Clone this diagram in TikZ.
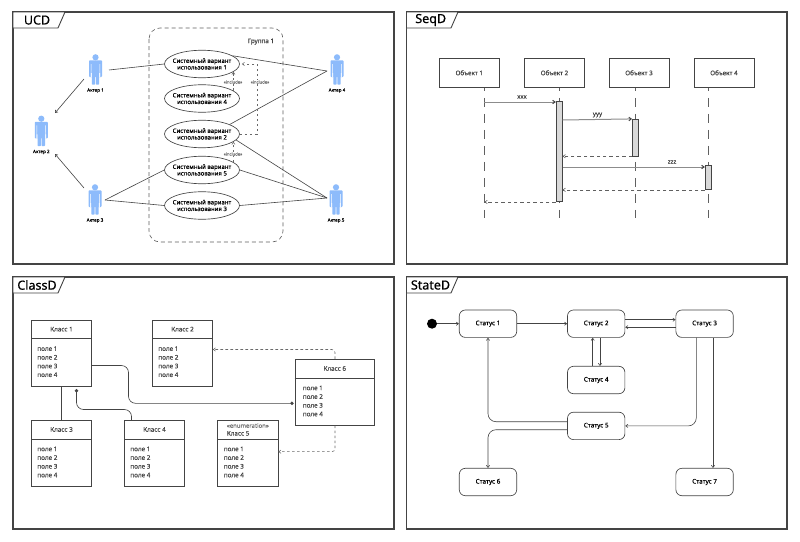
\documentclass[tikz,border=0pt]{standalone}
\usepackage{fontspec}
\setmainfont{Noto Sans}
\newfontfamily\medfont{Noto Sans}[FakeBold=0.2]
\newfontfamily\heavyfont{Noto Sans}[FakeBold=0.6]
\usetikzlibrary{arrows.meta,calc,shapes.geometric}
\definecolor{ink}{HTML}{444444}
\definecolor{actorblue}{HTML}{8DBBFB}
\definecolor{msg}{HTML}{8C8C8C}
\definecolor{barfill}{HTML}{D9D9D9}
\newcommand{\fsz}[1]{\medfont\fontsize{#1}{#1}\selectfont}
\newcommand{\ucase}[1]{\makebox[0pt]{Системный вариант}\\[.6pt]\makebox[0pt]{использования #1}}
\tikzset{
  panel/.style={draw=ink,line width=1.1pt,fill=white},
  tabshape/.style={draw=ink,line width=.9pt,fill=white},
  tabtitle/.style={font=\heavyfont\fontsize{12.5}{12.5}\selectfont,text=black,inner sep=0pt},
  conn/.style={draw=ink,line width=.6pt},
  arr/.style={conn,-{Straight Barb[length=2.2pt,width=3.2pt]}},
  grouprect/.style={draw=ink!85,line width=.6pt,dash pattern=on 4pt off 3pt,rounded corners=11pt},
  usecase/.style={ellipse,draw=ink,line width=.65pt,fill=white,minimum width=75pt,minimum height=27.5pt,inner sep=0pt,align=center,font=\fsz{6},text=black},
  actorlabel/.style={font=\fsz{4.6},text=black,inner sep=0pt},
  actoranchor/.style={inner sep=0pt,minimum width=13pt,minimum height=30pt},
  dep/.style={draw=ink!80,line width=.55pt,dash pattern=on 2.6pt off 2.4pt,-{Straight Barb[length=2.2pt,width=3.2pt]}},
  inclabel/.style={font=\fsz{4.2},text=ink!75,fill=white,inner sep=.6pt},
  objbox/.style={draw=ink,line width=.65pt,fill=white,minimum width=60pt,minimum height=29.5pt,inner sep=0pt,font=\fsz{6.3},text=ink},
  lifeline/.style={draw=ink!85,line width=.6pt,dash pattern=on 9pt off 7pt,dash phase=6pt},
  activation/.style={draw=ink,line width=.65pt,fill=barfill,minimum width=6pt,inner sep=0pt},
  msgarr/.style={draw=msg,line width=1pt,-{Straight Barb[length=2.4pt,width=3.4pt,color=ink]}},
  retarr/.style={draw=ink!85,line width=.6pt,dash pattern=on 3.4pt off 3pt,-{Straight Barb[length=2.4pt,width=3.4pt]}},
  msglabel/.style={font=\fsz{6},text=ink,inner sep=0pt},
  classbox/.style={draw=ink,line width=.65pt,fill=white,inner sep=0pt},
  classtitle/.style={font=\fsz{6.3},text=ink,inner sep=0pt,align=left},
  classfields/.style={font=\fsz{6.3},text=ink,inner sep=0pt,align=left},
  dotarr/.style={conn,-{Circle[length=3.4pt,width=3.4pt]},rounded corners=7pt,shorten >=1pt},
  statebox/.style={draw=ink,line width=.65pt,fill=white,rounded corners=6pt,minimum width=57.4pt,minimum height=27.4pt,inner sep=0pt,font=\fsz{6.3},text=black},
  startdot/.style={circle,fill=black,minimum size=10pt,inner sep=0pt},
  actorfig/.pic={
    \fill[actorblue] (0,-12.7) circle (3.1);
    \fill[actorblue,rounded corners=.8pt] (-6.5,-9.6) rectangle (6.5,7);
    \fill[white] (-4.6,-6) rectangle (-4.1,7.2) (4.1,-6) rectangle (4.6,7.2);
    \fill[white] (-4.7,3) rectangle (-3.7,7.2) (3.7,3) rectangle (4.7,7.2);
    \fill[actorblue,rounded corners=.6pt] (-3.7,0) rectangle (-.3,14.6);
    \fill[actorblue,rounded corners=.6pt] (.3,0) rectangle (3.7,14.6);
  },
}
% name, left, top, width, title, field inset
\newcommand{\umlclass}[6]{%
  \node[classbox,minimum width=#4pt,minimum height=66pt] (#1) at ({#2+#4/2},{#3+33}) {};
  \draw[conn] ($(#1.north west)+(0,19)$) -- ($(#1.north east)+(0,19)$);
  \node[classtitle] (#1t) at ($(#1.north)+(0,9.5)$) {#5};
  \node[classfields,anchor=west] (#1f) at ($(#1.north west)+(#6,42)$) {поле 1\\[2.4pt]поле 2\\[2.4pt]поле 3\\[2.4pt]поле 4};
}
\newcommand{\actorat}[4]{%
  \node[actoranchor] (#1) at (#2,#3) {};
  \pic at (#1) {actorfig};
  \node[actorlabel] (#1l) at ($(#1)+(0,20.6)$) {#4};
}
\begin{document}
\begin{tikzpicture}[x=1pt,y=-1pt]
\useasboundingbox (0,0) rectangle (800,541);
\fill[white] (0,0) rectangle (800,541);
% panels
\draw[panel] (13,12) rectangle (394,264);
\draw[panel] (406.5,12) rectangle (787,264);
\draw[panel] (13,277) rectangle (394,529);
\draw[panel] (406.5,277) rectangle (787,529);
\draw[tabshape] (13,12) -- (65,12) -- (58,28) -- (13,28) -- cycle;
\draw[tabshape] (406.5,12) -- (458,12) -- (451,28) -- (406.5,28) -- cycle;
\draw[tabshape] (13,277) -- (65,277) -- (58,293) -- (13,293) -- cycle;
\draw[tabshape] (406.5,277) -- (458,277) -- (451,293) -- (406.5,293) -- cycle;
\node[tabtitle] (t1) at (37,20) {UCD};
\node[tabtitle] (t2) at (430.7,20) {SeqD};
\node[tabtitle] (t3) at (37,285) {ClassD};
\node[tabtitle] (t4) at (430.5,285) {StateD};

% UCD
\draw[grouprect] (149,28) rectangle (283,242);
\node[font=\fsz{6.3},text=ink,inner sep=0pt] (grp) at (261,41.6) {Группа 1};
\actorat{a1}{95.5}{70}{Актер 1}
\actorat{a2}{41.3}{131.4}{Актер 2}
\actorat{a3}{95}{200}{Актер 3}
\actorat{a4}{337}{70}{Актер 4}
\actorat{a5}{336}{200}{Актер 5}
\node[usecase] (e1) at (202,64) {\ucase{1}};
\node[usecase] (e4) at (202,98.5) {\ucase{4}};
\node[usecase] (e2) at (202,134) {\ucase{2}};
\node[usecase] (e5) at (202,170) {\ucase{5}};
\node[usecase] (e3) at (202,205.5) {\ucase{3}};
\draw[conn] ($(a1)+(13.5,0)$) -- (e1.west);
\draw[arr] ($(a1)+(-11.5,9)$) -- ($(a2)+(13.7,-18.4)$);
\draw[arr] ($(a3)+(-11,-12)$) -- ($(a2)+(13.7,22.6)$);
\draw[conn] ($(a3)+(10,0)$) -- (e5.west);
\draw[conn] ($(a3)+(10,0)$) -- (e3.west);
\draw[conn] (e1.15) -- ($(a4)+(-10,1)$);
\draw[conn] (e2.19) -- ($(a4)+(-10,1)$);
\draw[conn] (e2.-10) -- ($(a5)+(-9,-2)$);
\draw[conn] (e5.east) -- ($(a5)+(-9,-2)$);
\draw[conn] (e3.east) -- ($(a5)+(-9,-2)$);
\coordinate (k1) at (257,64);
\draw[dep,shorten >=2pt] (e2.east) -| (k1) -- (e1.east);
\draw[dep] (e4.14) -- (e1.-14);
\draw[dep] (e5.14) -- (e2.-14);
\node[inclabel] (i1) at (233,82) {«include»};
\node[inclabel] (i2) at (260,82) {«include»};
\node[inclabel] (i3) at (233,154) {«include»};

% SeqD
\node[objbox] (o1) at (469.3,72.8) {Объект 1};
\node[objbox] (o2) at (554.5,72.8) {Объект 2};
\node[objbox] (o3) at (639,72.8) {Объект 3};
\node[objbox] (o4) at (724,72.8) {Объект 4};
\coordinate (l1) at (484.4,218);
\coordinate (l2) at (559.3,218);
\coordinate (l3) at (635.7,218);
\coordinate (l4) at (708.3,218);
\draw[lifeline] (o1.south -| l1) -- (l1);
\draw[lifeline] (o2.south -| l2) -- (l2);
\draw[lifeline] (o3.south -| l3) -- (l3);
\draw[lifeline] (o4.south -| l4) -- (l4);
\node[activation,minimum height=100.7pt] (b2) at (559.2,151.3) {};
\node[activation,minimum height=36.7pt] (b3) at (635.4,137.6) {};
\node[activation,minimum height=24pt] (b4) at (708.2,177.5) {};
\draw[msgarr] (484.4,102) -- (b2.north west |- 0,102);
\draw[msgarr] (b2.east |- 0,120) -- (b3.north west);
\draw[retarr] (b3.south west) -- (b2.east |- b3.south);
\draw[msgarr] (b2.east |- 0,167) -- (b4.north west |- 0,167);
\draw[retarr] (b4.south west) -- (b2.east |- b4.south);
\draw[retarr] (b2.south west) -- (l1 |- b2.south);
\node[msglabel] (m1) at (522,97) {xxx};
\node[msglabel] (m2) at (597.5,115) {yyy};
\node[msglabel] (m3) at (672,162) {zzz};

% ClassD
\umlclass{c1}{31.5}{320}{60}{Класс 1}{6}
\umlclass{c2}{152.5}{320}{60}{Класс 2}{6}
\umlclass{c3}{31.5}{420.3}{60}{Класс 3}{6}
\umlclass{c4}{124.5}{420.3}{60}{Класс 4}{6}
\umlclass{c5}{217.7}{420.3}{60.3}{\textcolor{ink!75}{\fsz{5.9}«enumeration»}\\[1.5pt]Класс 5}{6.3}
\umlclass{c6}{295}{359.3}{79.5}{Класс 6}{8}
\draw[conn] (c1.south -| 61.5,0) -- (c3.north -| 61.5,0);
\draw[dotarr] ($(c1.east)+(0,12.5)$) -- (128.5,365.5) -- (128.5,403.3) -- ($(c6.west)+(0,11)$);
\draw[dotarr] (c4.north -| 131.5,0) -- (131.5,409.5) -- (76.5,409.5) -- (76.5,388);
\draw[dep,rounded corners=3pt] (c6.north -| 335,0) -- (335,349.5) -- (c2.east |- 0,349.5);
\draw[dep,rounded corners=3pt] (c6.south -| 335,0) -- (335,451.7) -- (c5.east |- 0,451.7);

% StateD
\node[startdot] (st) at (432,323.7) {};
\node[statebox] (s1) at (488,323.7) {Статус 1};
\node[statebox] (s2) at (596.2,323.7) {Статус 2};
\node[statebox] (s3) at (704.6,323.7) {Статус 3};
\node[statebox] (s4) at (596.2,380) {Статус 4};
\node[statebox] (s5) at (596.2,425.9) {Статус 5};
\node[statebox] (s6) at (488,482) {Статус 6};
\node[statebox] (s7) at (704.6,482) {Статус 7};
\draw[arr] (st) -- (s1);
\draw[arr] (s1) -- (s2);
\draw[arr] ($(s2.east)+(0,-4)$) -- ($(s3.west)+(0,-4)$);
\draw[arr] ($(s3.west)+(0,3.5)$) -- ($(s2.east)+(0,3.5)$);
\draw[arr] ($(s4.north)+(-3.5,0)$) -- ($(s2.south)+(-3.5,0)$);
\draw[arr] ($(s2.south)+(3.8,0)$) -- ($(s4.north)+(3.8,0)$);
\draw[arr,rounded corners=8pt] ($(s3.south)+(-8.3,0)$) |- (s5.east);
\draw[arr] ($(s3.south)+(8.4,0)$) -- ($(s7.north)+(8.4,0)$);
\draw[arr,rounded corners=8pt] ($(s5.west)+(0,-4.2)$) -| (s1.south);
\draw[arr,rounded corners=8pt] ($(s5.west)+(0,3.8)$) -| (s6.north);
\end{tikzpicture}
\end{document}
